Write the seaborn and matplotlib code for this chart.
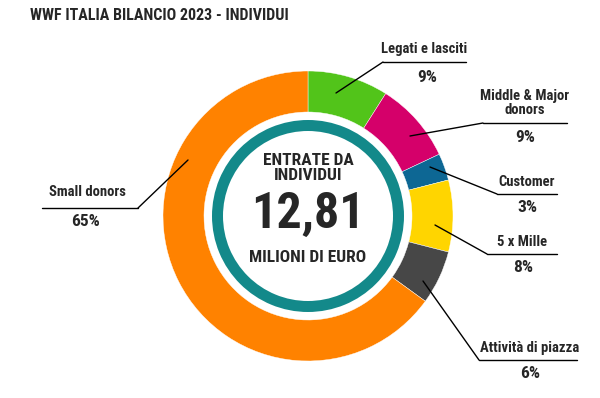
import matplotlib
matplotlib.use("Agg")
import matplotlib.pyplot as plt
from matplotlib import font_manager
import seaborn as sns

# data
labels = ["Legati e lasciti", "Middle & Major\ndonors", "Customer", "5 x Mille", "Attività di piazza", "Small donors"]
values = [9, 9, 3, 8, 6, 65]
pct_labels = ["9%", "9%", "3%", "8%", "6%", "65%"]
colors = ["#52c41a", "#d5006a", "#0d6794", "#ffd500", "#474747", "#ff8200"]
title = "WWF ITALIA BILANCIO 2023 - INDIVIDUI"
center_lines = ["ENTRATE DA\nINDIVIDUI", "12,81", "MILIONI DI EURO"]

# label layout in pixels (y from top): name xy, underline y, x0, x1, pct xy, leader start
layout = [
    dict(name=(424, 49), ly=62, x0=383, x1=466, pct=(427, 77), start=(336, 93)),
    dict(name=(525, 103), ly=123, x0=483, x1=567, pct=(525, 138), start=(410, 136)),
    dict(name=(527, 182), ly=194, x0=497, x1=557, pct=(527, 208), start=(430, 167)),
    dict(name=(522, 242), ly=254, x0=487, x1=557, pct=(523, 268), start=(435, 225)),
    dict(name=(530, 348), ly=360, x0=479, x1=577, pct=(530, 374), start=(423, 281)),
    dict(name=(87, 192), ly=208, x0=42, x1=138, pct=(85, 222), start=(188, 160)),
]

sns.set_theme(style="white")
avail = {f.name for f in font_manager.fontManager.ttflist}
fam = "DejaVu Sans"
for f in ["Liberation Sans Narrow", "DejaVu Sans Condensed", "Roboto Condensed", "Open Sans Condensed"]:
    if f in avail:
        fam = f
        break
plt.rcParams["font.family"] = [fam, "DejaVu Sans"]

H = 398
def Y(y):
    return H - y

fig = plt.figure(figsize=(6, 3.98), dpi=100)
ax = fig.add_axes([0, 0, 1, 1])

cx, cy = 308, Y(216)
ax.pie(values, colors=colors, startangle=90, counterclock=False,
       radius=145, center=(cx, cy),
       wedgeprops=dict(width=41, edgecolor="white", linewidth=0.3))
# inner teal ring
ax.pie([1], colors=["#13898a"], radius=96, center=(cx, cy),
       wedgeprops=dict(width=11, linewidth=0))

ax.set_xlim(0, 600)
ax.set_ylim(0, H)
ax.set_aspect("equal")
ax.axis("off")

# labels with leader lines
for name, pct, lay in zip(labels, pct_labels, layout):
    x0, x1, ly = lay["x0"], lay["x1"], lay["ly"]
    elbow = x1 if lay["name"][0] < cx else x0
    sx, sy = lay["start"]
    ax.plot([sx, elbow], [Y(sy), Y(ly)], color="black", lw=1.0)
    ax.plot([x0, x1], [Y(ly), Y(ly)], color="black", lw=1.0)
    ax.text(lay["name"][0], Y(lay["name"][1]), name, ha="center", va="center",
            fontsize=10.5, fontweight="bold", linespacing=1.0)
    ax.text(lay["pct"][0], Y(lay["pct"][1]), pct, ha="center", va="center",
            fontsize=12.5, fontweight="bold")

# centre text
ax.text(cx, Y(168), center_lines[0], ha="center", va="center",
        fontsize=12.5, fontweight="bold", linespacing=0.95)
ax.text(cx, Y(214), center_lines[1], ha="center", va="center",
        fontsize=36, fontweight="bold")
ax.text(cx, Y(258), center_lines[2], ha="center", va="center",
        fontsize=12.5, fontweight="bold")

# title
ax.text(30, Y(16), title, ha="left", va="center", fontsize=11.5, fontweight="bold")

fig.savefig("out.png", dpi=100)
